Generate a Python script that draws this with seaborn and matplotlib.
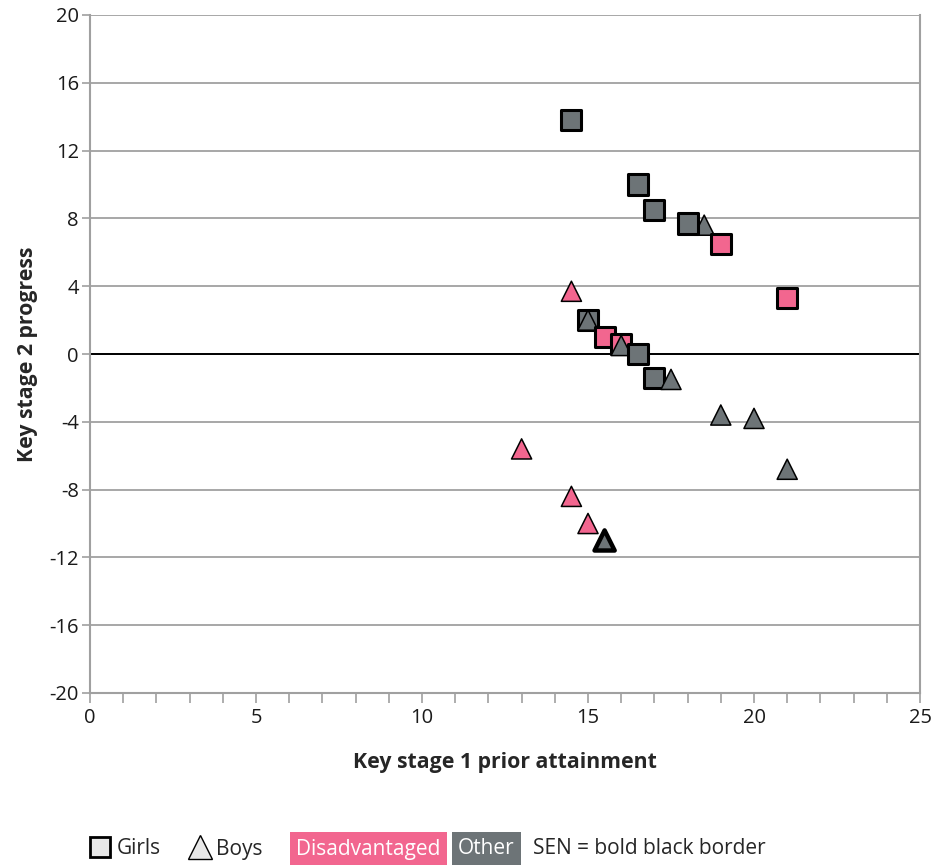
import numpy as np
import pandas as pd
import matplotlib
matplotlib.use("Agg")
import matplotlib.pyplot as plt
import seaborn as sns
from matplotlib.lines import Line2D
from matplotlib.ticker import MultipleLocator

# data, listed in drawing order (later points sit on top)
ks1 = [18.5, 14.5, 16.5, 17, 18, 19, 21, 14.5, 15, 15, 15.5, 16, 16,
       16.5, 17, 17.5, 19, 20, 21, 13, 14.5, 15, 15.5]
ks2 = [7.6, 13.8, 10, 8.5, 7.7, 6.5, 3.3, 3.7, 2, 2, 1, 0.6, 0.5,
       0, -1.4, -1.5, -3.6, -3.8, -6.8, -5.6, -8.4, -10, -11]
gender = ["Boys", "Girls", "Girls", "Girls", "Girls", "Girls", "Girls", "Boys",
          "Girls", "Boys", "Girls", "Girls", "Boys", "Girls", "Girls", "Boys",
          "Boys", "Boys", "Boys", "Boys", "Boys", "Boys", "Boys"]
group = ["Other", "Other", "Other", "Other", "Other", "Disadvantaged", "Disadvantaged",
         "Disadvantaged", "Other", "Other", "Disadvantaged", "Disadvantaged", "Other",
         "Other", "Other", "Other", "Other", "Other", "Other", "Disadvantaged",
         "Disadvantaged", "Disadvantaged", "Other"]
sen = [False] * 22 + [True]

df = pd.DataFrame({"ks1": ks1, "ks2": ks2, "gender": gender,
                   "group": group, "sen": sen})

pink = "#f2668f"
grey = "#6d7477"

sns.set_style("white")
plt.rcParams["font.family"] = ["Open Sans", "DejaVu Sans"]

fig = plt.figure(figsize=(9.5, 8.65), dpi=100)
ax = fig.add_axes([90 / 950, 1 - 693 / 865, 830 / 950, 678 / 865])

# border width: squares heavier, SEN bold
lw = np.where(df["sen"], 3.2, np.where(df["gender"] == "Girls", 2.2, 1.1))

sns.scatterplot(data=df, x="ks1", y="ks2", hue="group", style="gender",
                palette={"Disadvantaged": pink, "Other": grey},
                markers={"Girls": "s", "Boys": "^"},
                s=210, edgecolor="black", linewidth=lw,
                legend=False, ax=ax, zorder=3)

ax.set_xlim(0, 25)
ax.set_ylim(-20, 20)
ax.xaxis.set_major_locator(MultipleLocator(5))
ax.xaxis.set_minor_locator(MultipleLocator(1))
ax.yaxis.set_major_locator(MultipleLocator(4))
ax.grid(axis="y", color="#a0a0a0", linewidth=1.3, zorder=0)
ax.axhline(0, color="black", linewidth=1.4, zorder=1)

for side in ["top", "bottom", "left", "right"]:
    ax.spines[side].set_color("#a0a0a0")
    ax.spines[side].set_linewidth(1.5)
ax.spines["top"].set_visible(False)

ax.tick_params(axis="both", which="both", direction="out", color="#a0a0a0",
               width=1.2, labelsize=14.5, labelcolor="#1a1a1a",
               bottom=True, left=True)
ax.tick_params(axis="y", length=6, pad=2)
ax.tick_params(axis="x", which="both", length=7, pad=4)
ax.set_xticks([0, 5, 10, 15, 20, 25])
ax.set_yticks(range(-20, 21, 4))
ax.set_yticklabels([str(v) for v in range(-20, 21, 4)])

ax.set_xlabel("Key stage 1 prior attainment", fontsize=15.3, fontweight="bold", labelpad=17)
ax.set_ylabel("Key stage 2 progress", fontsize=15.3, fontweight="bold", labelpad=8)

# custom key along the bottom
fig.add_artist(Line2D([100 / 950], [1 - 847 / 865], marker="s", markersize=15,
                      markerfacecolor="#e8e8e8", markeredgecolor="black",
                      markeredgewidth=2, linestyle="", transform=fig.transFigure))
fig.text(117 / 950, 1 - 849 / 865, "Girls", fontsize=15, va="center")
fig.add_artist(Line2D([200 / 950], [1 - 847 / 865], marker="^", markersize=17,
                      markerfacecolor="#e8e8e8", markeredgecolor="black",
                      markeredgewidth=1, linestyle="", transform=fig.transFigure))
fig.text(216 / 950, 1 - 849 / 865, "Boys", fontsize=15, va="center")
fig.text(296 / 950, 1 - 849 / 865, "Disadvantaged", fontsize=15, va="center",
         color="white", bbox=dict(boxstyle="square,pad=0.3", fc=pink, ec="none"))
fig.text(458 / 950, 1 - 849 / 865, "Other", fontsize=15, va="center",
         color="white", bbox=dict(boxstyle="square,pad=0.3", fc=grey, ec="none"))
fig.text(533 / 950, 1 - 849 / 865, "SEN = bold black border", fontsize=15, va="center")

fig.savefig("out.png", dpi=100)
